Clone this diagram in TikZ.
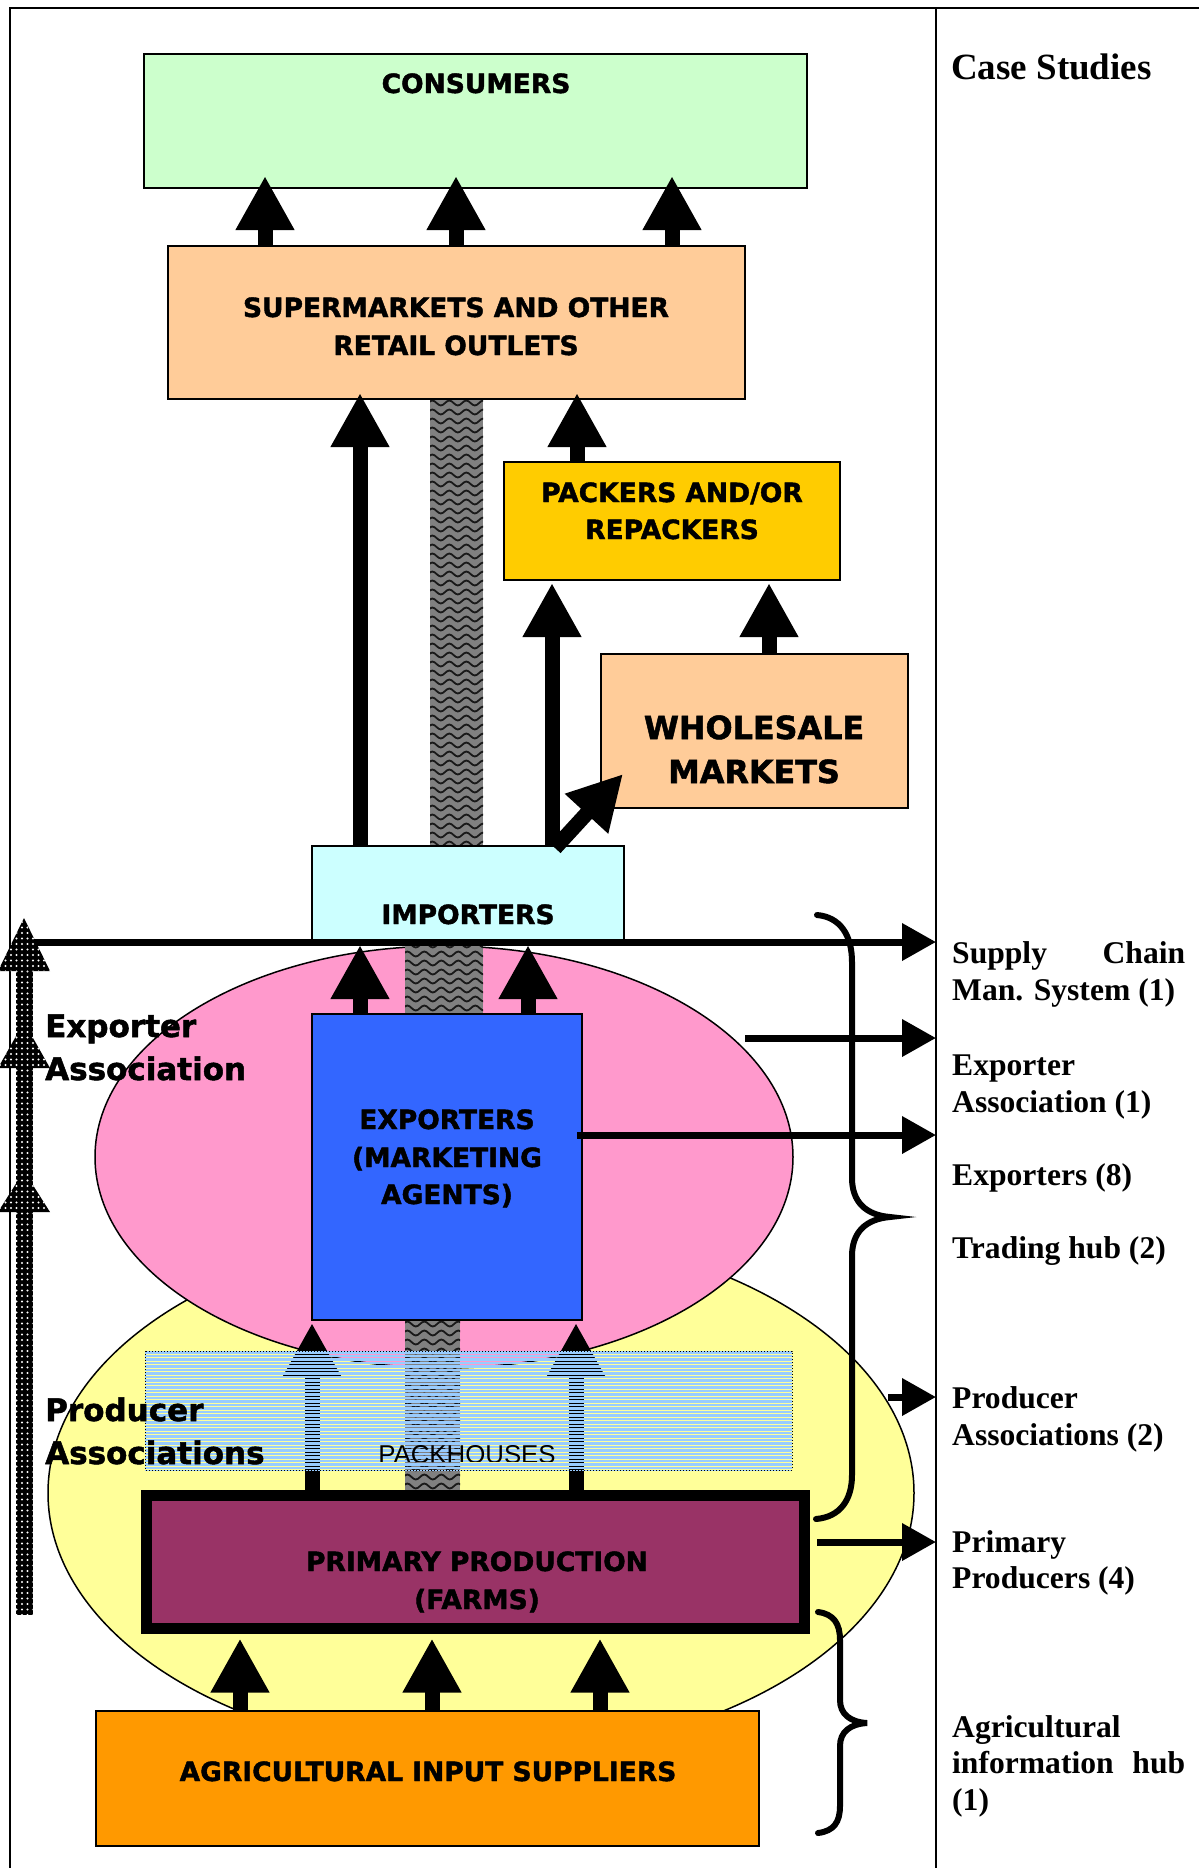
\documentclass[tikz,border=0pt]{standalone}
\usepackage{fontspec}
\newfontfamily\boxfont{DejaVu Sans}[BoldFeatures={FakeBold=1.6}]
\newfontfamily\csfont{Liberation Serif}
\newfontfamily\phfont{Liberation Sans}
\usetikzlibrary{arrows.meta,decorations.pathmorphing,patterns,calc}
\definecolor{conC}{HTML}{CCFFCC}
\definecolor{supC}{HTML}{FFCC99}
\definecolor{packC}{HTML}{FFCC00}
\definecolor{impC}{HTML}{CCFFFF}
\definecolor{expC}{HTML}{3366FF}
\definecolor{pinkC}{HTML}{FF99CC}
\definecolor{yelC}{HTML}{FFFF99}
\definecolor{phC}{HTML}{99CCFF}
\definecolor{primC}{HTML}{993366}
\definecolor{agC}{HTML}{FF9900}
\definecolor{colC}{HTML}{808080}
\pgfdeclarepatternformonly{bigdots}{\pgfqpoint{-2pt}{-2pt}}{\pgfqpoint{2pt}{2pt}}{\pgfqpoint{5.5pt}{5.5pt}}{\pgfpathcircle{\pgfqpoint{0pt}{0pt}}{1.1pt}\pgfusepath{fill}}
\newcommand\zigcol[5]{%
  \begin{scope}
    \clip (#1,#2) rectangle (#3,#4);
    \fill[colC] (#1,#2) rectangle (#3,#4);
    \foreach \i in {0,...,#5}{
      \draw[wavel] (#1-20,#2+4+9*\i) -- (#3+20,#2+4+9*\i);
    }
  \end{scope}}
\begin{document}
\begin{tikzpicture}[x=1pt,y=-1pt,
  box/.style={draw=black, line width=1.6pt, inner sep=0pt, outer sep=0pt, anchor=north west},
  lbl/.style={font=\boxfont\bfseries\fontsize{26.5}{30}\selectfont, inner sep=0pt, anchor=base},
  biglbl/.style={font=\boxfont\bfseries\fontsize{31.8}{36}\selectfont, inner sep=0pt, anchor=base},
  sidelbl/.style={font=\boxfont\bfseries\fontsize{31}{36}\selectfont, inner sep=0pt, anchor=base west},
  cs/.style={font=\csfont\bfseries\fontsize{31.6}{37}\selectfont, inner sep=0pt, anchor=base west},
  bigarr/.style={line width=15pt, -{Triangle[length=54pt,width=55pt]}},
  smallarr/.style={line width=7pt, -{Triangle[length=34pt,width=36pt]}},
  brace/.style={line width=6pt, line cap=round},
  wavel/.style={line width=1.8pt, black!90, decorate, decoration={snake, amplitude=2.5pt, segment length=17pt}},
  dotfill/.style={fill=black, postaction={pattern=bigdots, pattern color=white}}
]
\useasboundingbox (0,0) rectangle (1199,1868);
\fill[white] (0,0) rectangle (1199,1868);

% frame
\draw[line width=2.5pt] (10,1868) -- (10,8) -- (1199,8);
\draw[line width=2.5pt] (936,8) -- (936,1868);

% group ellipses
\draw[line width=1.5pt, fill=yelC] (481,1493) ellipse [x radius=433, y radius=263];
\draw[line width=1.5pt, fill=pinkC] (444,1157) ellipse [x radius=349, y radius=211];

% gray columns
\zigcol{430}{399}{483}{846}{49}
\zigcol{405}{941}{483}{1014}{8}
\zigcol{405}{1320}{460}{1490}{19}

% boxes
\node[box, fill=conC, minimum width=663pt, minimum height=134pt] (con) at (144,54) {};
\node[box, fill=supC, minimum width=577pt, minimum height=153pt] (sup) at (168,246) {};
\node[box, fill=packC, minimum width=336pt, minimum height=118pt] (pack) at (504,462) {};
\node[box, fill=supC, minimum width=307pt, minimum height=154pt] (whole) at (601,654) {};
\node[box, fill=impC, minimum width=312pt, minimum height=95pt] (imp) at (312,846) {};
\node[box, fill=expC, minimum width=270pt, minimum height=306pt] (exp) at (312,1014) {};
\node[box, draw=none, minimum width=647pt, minimum height=119pt] (ph) at (145,1351) {};
\node[box, fill=primC, line width=11pt, minimum width=658pt, minimum height=133pt] (prim) at (146.5,1495.5) {};
\node[box, fill=agC, minimum width=663pt, minimum height=135pt] (ag) at (96,1711) {};

% x guides
\path (265,0) coordinate (xc1) (456,0) coordinate (xc2) (672,0) coordinate (xc3)
      (360,0) coordinate (xi1) (552,0) coordinate (xi2) (577,0) coordinate (xp)
      (769,0) coordinate (xw) (528,0) coordinate (xe2) (312,0) coordinate (xf1)
      (576,0) coordinate (xf2) (240,0) coordinate (xg1) (432,0) coordinate (xg2)
      (600,0) coordinate (xg3);

% flow arrows
\foreach \c in {xc1,xc2,xc3}{
  \draw[bigarr] (sup.north -| \c) -- ($(con.south -| \c)+(0,-12)$);
}
\draw[bigarr] (imp.north -| xi1) -- ($(sup.south -| xi1)+(0,-6)$);
\draw[bigarr] (pack.north -| xp) -- ($(sup.south -| xp)+(0,-6)$);
\draw[bigarr] (imp.north -| xi2) -- ($(pack.south -| xi2)+(0,3)$);
\draw[bigarr] (whole.north -| xw) -- ($(pack.south -| xw)+(0,3)$);
\draw[bigarr] ($(imp.north -| xi2)+(3,2)$) -- ($(whole.south west)+(22,-34)$);
\draw[bigarr] (exp.north -| xi1) -- ($(imp.south -| xi1)+(0,4)$);
\draw[bigarr] (exp.north -| xe2) -- ($(imp.south -| xe2)+(0,4)$);
\draw[bigarr] (prim.north -| xf1) -- ($(exp.south -| xf1)+(0,3)$);
\draw[bigarr] (prim.north -| xf2) -- ($(exp.south -| xf2)+(0,3)$);

% packhouses stripes
\begin{scope}
  \clip (145,1351) rectangle (792,1470);
  \foreach \i in {0,...,34}{
    \draw[line width=2.7pt, phC] (140,1352.5+3.5*\i) -- (800,1352.5+3.5*\i);
  }
\end{scope}
\draw[dotted, line width=1pt] (ph.north west) rectangle (ph.south east);
\begin{scope}
  \clip (145,1351) rectangle (792,1461);
  \node[font=\phfont\fontsize{25.8}{30}\selectfont, inner sep=0pt, anchor=base] (phl) at (467,1463) {PACKHOUSES};
\end{scope}

% primary box border on top of arrows
\draw[line width=11pt] (prim.north west) rectangle (prim.south east);

\foreach \c in {xg1,xg2,xg3}{
  \draw[bigarr] (ag.north -| \c) -- ($(prim.south -| \c)+(0,10)$);
}

% labels in boxes
\node[lbl] (conl) at (476,93) {CONSUMERS};
\node[lbl] (supl1) at (456,317) {SUPERMARKETS AND OTHER};
\node[lbl] (supl2) at (456,355) {RETAIL OUTLETS};
\node[lbl] (packl1) at (672,502) {PACKERS AND/OR};
\node[lbl] (packl2) at (672,539) {REPACKERS};
\node[biglbl] (wholel1) at (754,739) {WHOLESALE};
\node[biglbl] (wholel2) at (754,783) {MARKETS};
\node[lbl] (impl) at (468,924) {IMPORTERS};
\node[lbl] (expl1) at (447,1129) {EXPORTERS};
\node[lbl] (expl2) at (447,1167) {(MARKETING};
\node[lbl] (expl3) at (447,1204) {AGENTS)};
\node[lbl] (priml1) at (477,1571) {PRIMARY PRODUCTION};
\node[lbl] (priml2) at (477,1609) {(FARMS)};
\node[lbl] (agl) at (428,1781) {AGRICULTURAL INPUT SUPPLIERS};

% left group labels
\node[sidelbl] (ea1) at (45,1037) {Exporter};
\node[sidelbl] (ea2) at (45,1080) {Association};
\node[sidelbl] (pa1) at (45,1421) {Producer};
\node[sidelbl] (pa2) at (45,1464) {Associations};

% arrows to case studies
\coordinate (L0) at (15,942);
\coordinate (S2) at (745,1038);
\coordinate (S4) at (888,1397);
\coordinate (R1) at (936,942);
\coordinate (R2) at (936,1038);
\coordinate (R3) at (936,1135);
\coordinate (R4) at (936,1397);
\coordinate (R5) at (936,1542);
\draw[smallarr] (L0) -- (R1);
\draw[smallarr] (S2) -- (R2);
\draw[smallarr] ($(exp.east |- R3)+(-5,0)$) -- (R3);
\draw[smallarr] (S4) -- (R4);
\draw[smallarr] ($(prim.east |- R5)+(12.5,0)$) -- (R5);

% braces
\draw[brace] (817,915) .. controls (840,917) and (852,935) .. (852,962) -- (852,1178)
  .. controls (852,1202) and (866,1215) .. (890,1217)
  .. controls (866,1219) and (852,1232) .. (852,1256) -- (852,1475)
  .. controls (852,1500) and (840,1517) .. (816,1519);
\draw[brace] (818,1612) .. controls (834,1614) and (840,1624) .. (840,1640) -- (840,1700)
  .. controls (840,1714) and (850,1722) .. (867,1723)
  .. controls (850,1724) and (840,1732) .. (840,1746) -- (840,1806)
  .. controls (840,1822) and (834,1831) .. (818,1833);

% dotted upward arrow (left)
\path[dotfill] (15.5,955) rectangle (32.5,1615);
\path[dotfill] (24,918) -- (50,971) -- (-2,971) -- cycle;
\path[dotfill] (24,1022) -- (50,1068) -- (-2,1068) -- cycle;
\path[dotfill] (24,1171) -- (50,1212) -- (-2,1212) -- cycle;

% case studies column
\node[font=\csfont\bfseries\fontsize{37}{42}\selectfont, inner sep=0pt, anchor=base west] (cst) at (951,80) {Case Studies};
\node[cs] (t1a) at (952,963) {\hbox to 233pt{Supply\hfill Chain}};
\node[cs] (t1b) at (952,1000) {Man. System (1)};
\node[cs] (t2a) at (952,1075) {Exporter};
\node[cs] (t2b) at (952,1112) {Association (1)};
\node[cs] (t3) at (952,1185) {Exporters (8)};
\node[cs] (t4) at (952,1258) {Trading hub (2)};
\node[cs] (t5a) at (952,1408) {Producer};
\node[cs] (t5b) at (952,1445) {Associations (2)};
\node[cs] (t6a) at (952,1552) {Primary};
\node[cs] (t6b) at (952,1588) {Producers (4)};
\node[cs] (t7a) at (952,1737) {Agricultural};
\node[cs] (t7b) at (952,1773) {\hbox to 233pt{information\hfill hub}};
\node[cs] (t7c) at (952,1810) {(1)};
\end{tikzpicture}
\end{document}
